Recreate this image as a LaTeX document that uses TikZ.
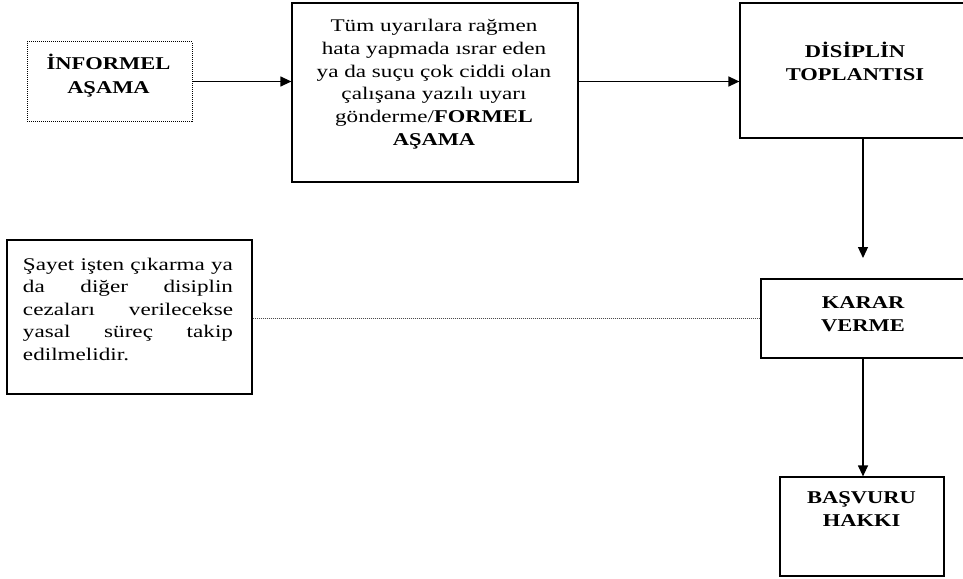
\documentclass[tikz,border=0pt]{standalone}
\usepackage{fontspec}
\setmainfont{Liberation Serif}[FakeStretch=1.30]
\newfontfamily\hdfont{Liberation Serif}[FakeStretch=1.25]
\usetikzlibrary{arrows.meta}
\tikzset{
  boxx/.style={draw=black, line width=1.2pt, inner sep=0pt},
  dotbox/.style={draw=black, line width=1pt, dash pattern=on 1pt off 1pt, inner sep=0pt},
  txt/.style={inner sep=0pt, outer sep=0pt},
  arr/.style={line width=1.2pt, -{Triangle[length=11pt,width=10pt]}},
  dotline/.style={draw=black!70, line width=0.8pt, dash pattern=on 1pt off 1pt},
}
\newcommand{\hd}{\fontsize{18}{23.5}\selectfont\hdfont\bfseries}
\newcommand{\rg}{\fontsize{17.8}{22.6}\selectfont}
\begin{document}
\begin{tikzpicture}[x=1pt,y=-1pt]
\useasboundingbox (0,0) rectangle (963,578);
\clip (0,0) rectangle (963,578);
% boxes (corners in pixel coordinates)
\node[dotbox, minimum width=165pt, minimum height=79pt] (inf) at (109.5,81.5) {};
\node[boxx, minimum width=286pt, minimum height=179pt] (mid) at (435,92.5) {};
\node[boxx, minimum width=235pt, minimum height=135pt] (dis) at (857.5,70.5) {};
\node[boxx, minimum width=214pt, minimum height=79pt] (kar) at (868,318.5) {};
\node[boxx, minimum width=164pt, minimum height=99pt] (bas) at (862,526.5) {};
\node[boxx, minimum width=245pt, minimum height=154pt] (lft) at (129.5,317) {};
% texts
\node[txt, anchor=base] (tinf) at (108.5,70) {\parbox[t]{160pt}{\centering\hd İNFORMEL\\AŞAMA}};
\node[txt, anchor=base] (tmid) at (434,32) {\parbox[t]{280pt}{\centering\rg Tüm uyarılara rağmen\\hata yapmada ısrar eden\\ya da suçu çok ciddi olan\\çalışana yazılı uyarı\\gönderme/{\hd FORMEL}\\{\hd AŞAMA}}};
\node[txt, anchor=base] (tdis) at (855,57) {\parbox[t]{220pt}{\centering\hd DİSİPLİN\\TOPLANTISI}};
\node[txt, anchor=base] (tkar) at (863,308) {\parbox[t]{200pt}{\centering\hd KARAR\\VERME}};
\node[txt, anchor=base] (tbas) at (861.5,503) {\parbox[t]{160pt}{\centering\hd BAŞVURU\\HAKKI}};
\node[txt, anchor=base west] (tlft) at (23,270) {\parbox[t]{210pt}{\rg Şayet\hfill işten\hfill çıkarma\hfill ya\\da\hfill diğer\hfill disiplin\\cezaları\hfill verilecekse\\yasal\hfill süreç\hfill takip\\edilmelidir.}};
% connectors
\coordinate (k1) at (863,258);
\draw[arr] (inf.east) -- (inf.east -| mid.west);
\draw[arr] (inf.east -| mid.east) -- (inf.east -| dis.west);
\draw[arr] (dis.south -| k1) -- (k1);
\draw[arr] (kar.south -| k1) -- (bas.north -| k1);
\draw[dotline] (kar.west -| lft.east) -- (kar.west);
\end{tikzpicture}
\end{document}
